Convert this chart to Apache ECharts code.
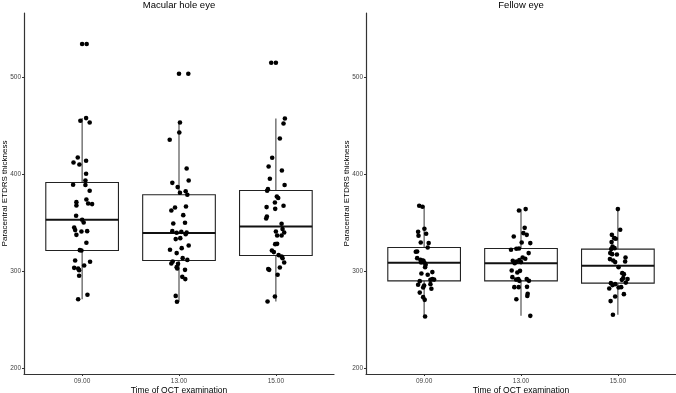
<!DOCTYPE html>
<html>
<head>
<meta charset="utf-8">
<script src="https://cdn.jsdelivr.net/npm/echarts@6/dist/echarts.min.js"></script>
<style>
  html, body { margin: 0; padding: 0; background: #fff; }
  #main { width: 676px; height: 393px; }
</style>
</head>
<body>
<div id="main"></div>
<script>
// paracentral ETDRS thickness by time of OCT exam, two panels

const categories = ['09.00', '13.00', '15.00'];
const panelTitles = ['Macular hole eye', 'Fellow eye'];
const yTicks = [200, 300, 400, 500];

// [min, q1, median, q3, max] per time point
const boxMacular = [
  [271.1, 321.2, 352.9, 391.3, 457.7],
  [268.4, 310.9, 339.2, 378.7, 453.2],
  [268.7, 316.1, 346.0, 383.1, 457.3]
];
const boxFellow = [
  [253.2, 290.0, 308.6, 324.3, 367.3],
  [253.9, 290.0, 308.2, 323.3, 363.9],
  [255.0, 287.6, 305.5, 322.7, 363.9]
];

// jittered points: [jitter offset, thickness]
const macular09 = [
  [0, 534], [0.047, 534], [-0.018, 455], [0.041, 457.7], [0.078, 453.2], [-0.045, 417.1],
  [-0.089, 412], [-0.028, 409.9], [0.041, 413.7], [0.041, 400.3], [0.034, 393.4], [0.034, 388.7],
  [-0.093, 389], [0.078, 382.8], [-0.059, 371.1], [-0.059, 367.6], [0.044, 373.8], [0.062, 369.7],
  [0.103, 369.1], [-0.062, 357], [0, 352.9], [0.016, 350.1], [-0.082, 344.9], [-0.072, 342.3],
  [-0.007, 340.8], [0.052, 341.2], [-0.059, 337.4], [0.044, 329.2], [-0.024, 321.6], [-0.007, 321.2],
  [-0.072, 310.9], [0.082, 309.6], [0.021, 305.8], [-0.082, 303.4], [-0.041, 302.7], [-0.031, 301],
  [-0.031, 295.2], [0.055, 275.6], [-0.041, 271.1]
];
const macular13 = [
  [0, 503.4], [0.096, 503.4], [0.010, 453.2], [0.003, 442.9], [-0.096, 435.4], [0.079, 405.8],
  [0.100, 393.4], [-0.069, 391], [-0.014, 386.6], [0.010, 380.7], [0.069, 382.3], [0.086, 378.7],
  [-0.041, 365.6], [-0.079, 362.5], [0.072, 366.6], [0.044, 357.7], [-0.059, 349.1], [0.062, 349.8],
  [-0.069, 341.2], [-0.024, 339.5], [0.024, 340.5], [0.079, 339.8], [0.069, 338.1], [-0.034, 333],
  [0.013, 334], [0.100, 326.4], [-0.093, 322], [0.028, 323.7], [-0.024, 318.6], [0.038, 313.4],
  [0.086, 311.6], [-0.065, 309.9], [-0.079, 307.8], [-0.010, 307.5], [-0.024, 304.1], [-0.018, 302.7],
  [0.062, 301.3], [0.034, 294.1], [0.065, 291.8], [-0.034, 274.5], [-0.021, 268.4]
];
const macular15 = [
  [-0.048, 514.7], [0, 514.7], [0.093, 457.3], [0.079, 452.2], [0.041, 436.7], [-0.038, 416.8],
  [-0.075, 407.8], [0.062, 403.7], [-0.062, 395.2], [0.090, 388.7], [-0.082, 384.5], [-0.090, 382.8],
  [0.010, 376.9], [0.024, 375.3], [-0.010, 370.7], [-0.096, 366], [-0.007, 364.2], [0.079, 367.3],
  [-0.093, 356.3], [-0.100, 354.2], [0.059, 348.8], [0.069, 343.3], [0, 340.8], [0.086, 339.8],
  [0.013, 336.7], [0.059, 336.7], [-0.007, 327.8], [0.013, 328.1], [-0.041, 321.2], [-0.021, 319.6],
  [0.028, 316.5], [0.059, 315.1], [0.069, 313.4], [0.086, 308.9], [-0.079, 302.1], [-0.069, 301.3],
  [0.041, 303.7], [0.018, 296.2], [-0.010, 273.8], [-0.086, 268.7]
];
const fellow09 = [
  [-0.051, 367.3], [-0.017, 366.3], [0.003, 343.6], [-0.062, 340.5], [0.021, 338.5], [-0.058, 336.4],
  [-0.035, 329.5], [0.047, 328.9], [0.037, 324.3], [-0.072, 320.2], [-0.086, 319.9], [-0.072, 313.4],
  [-0.038, 311.6], [-0.017, 310.9], [-0.007, 310.6], [0.016, 306.5], [0.010, 304.1], [0.085, 299],
  [-0.028, 297.5], [0.037, 296.2], [0.085, 291.8], [0.103, 291.3], [0.065, 291], [-0.045, 289.7],
  [-0.062, 285.9], [0, 285.2], [0.065, 286.6], [0.075, 281.8], [-0.010, 283.1], [-0.045, 277.9],
  [-0.010, 273.2], [0.006, 270.4], [0.010, 253.2], [-0.031, 308.9], [0.003, 308.6]
];
const fellow13 = [
  [-0.021, 362.5], [0.048, 363.9], [0.038, 344.6], [-0.075, 335.7], [0.024, 339.2], [0.059, 337.4],
  [0.007, 329.5], [0.096, 328.9], [-0.103, 322], [-0.048, 323], [-0.021, 323.3], [0.079, 318.6],
  [0.017, 314], [0.044, 312.7], [-0.017, 311.3], [-0.085, 310.6], [-0.044, 309.9], [-0.065, 308.2],
  [0, 309.3], [-0.096, 300.6], [-0.038, 298.6], [-0.010, 300.3], [-0.089, 293.8], [-0.051, 291.3],
  [-0.017, 290], [0.059, 291.8], [0.082, 290], [-0.028, 291.8], [-0.069, 283.5], [-0.024, 283.5],
  [0.062, 283.8], [0.069, 276.6], [0.065, 274.5], [-0.048, 271.1], [0.096, 253.9]
];
const fellow15 = [
  [0, 363.9], [0.024, 342.6], [-0.062, 337.4], [-0.038, 334], [-0.065, 329.9], [-0.021, 333.3],
  [-0.055, 325.4], [-0.034, 323.7], [-0.069, 322.7], [-0.079, 318.6], [-0.010, 317.1], [-0.059, 317.5],
  [-0.082, 312.4], [-0.048, 310.9], [-0.028, 309.3], [0.007, 304.1], [0.079, 314], [0.075, 309.9],
  [0.045, 297.9], [0.062, 296.9], [0.055, 292.8], [0.100, 291.8], [0.082, 288.2], [0.041, 291],
  [-0.072, 287.6], [-0.028, 286.6], [-0.055, 285.6], [0.034, 283.5], [0.007, 283.1], [-0.089, 282.1],
  [0.062, 276.3], [-0.028, 273.8], [-0.075, 269.1], [-0.051, 255]
];

const FONT = 'Liberation Sans';
const BOX_WIDTH = 0.75;

const toPoints = groups => groups.flatMap((g, i) => g.map(p => [i + 1 + p[0], p[1]]));
const toBoxes = boxes => boxes.map((b, i) => [i + 1, ...b]);

function renderBox(params, api) {
  const x = api.value(0);
  const lo = api.coord([x - BOX_WIDTH / 2, api.value(2)]);
  const hi = api.coord([x + BOX_WIDTH / 2, api.value(4)]);
  const mid = api.coord([x, api.value(3)]);
  const top = api.coord([x, api.value(5)]);
  const bot = api.coord([x, api.value(1)]);
  const lineStyle = { stroke: '#444', lineWidth: 1.1 };
  return {
    type: 'group',
    children: [
      { type: 'line', shape: { x1: top[0], y1: top[1], x2: top[0], y2: hi[1] }, style: lineStyle },
      { type: 'line', shape: { x1: bot[0], y1: lo[1], x2: bot[0], y2: bot[1] }, style: lineStyle },
      { type: 'rect', shape: { x: lo[0], y: hi[1], width: hi[0] - lo[0], height: lo[1] - hi[1] },
        style: { fill: '#fff', stroke: '#222', lineWidth: 1.1 } },
      { type: 'line', shape: { x1: lo[0], y1: mid[1], x2: hi[0], y2: mid[1] },
        style: { stroke: '#111', lineWidth: 2 } }
    ]
  };
}

const grids = [
  { left: 24, top: 13, width: 310, height: 361, outerBoundsMode: 'none' },
  { left: 366, top: 13, width: 310, height: 361, outerBoundsMode: 'none' }
];

const xAxes = grids.map((_, i) => ({
  type: 'value',
  gridIndex: i,
  min: 0.4,
  max: 3.6,
  name: 'Time of OCT examination',
  nameLocation: 'middle',
  nameGap: 12,
  nameMoveOverlap: false,
  nameTextStyle: { fontFamily: FONT, fontSize: 8.5, color: '#000' },
  axisLine: { lineStyle: { color: '#333', width: 1.2 } },
  axisTick: { customValues: [1, 2, 3], length: 2, lineStyle: { color: '#333' } },
  axisLabel: {
    customValues: [1, 2, 3],
    margin: 4,
    fontFamily: FONT, fontSize: 6.5, color: '#444',
    formatter: v => categories[Math.round(v) - 1] || ''
  },
  splitLine: { show: false }
}));

const yAxes = grids.map((_, i) => ({
  type: 'value',
  gridIndex: i,
  min: 194,
  max: 566,
  name: 'Paracentral ETDRS thickness',
  nameLocation: 'middle',
  nameGap: 15,
  nameMoveOverlap: false,
  nameTextStyle: { fontFamily: FONT, fontSize: 8, color: '#000' },
  axisLine: { show: true, lineStyle: { color: '#333', width: 1.2 } },
  axisTick: { show: true, customValues: yTicks, length: 2, lineStyle: { color: '#333' } },
  axisLabel: { customValues: yTicks, margin: 3, fontFamily: FONT, fontSize: 6.5, color: '#444' },
  splitLine: { show: false }
}));

const option = {
  animation: false,
  backgroundColor: '#fff',
  title: [
    { text: panelTitles[0], left: 179, top: 0, padding: 0, textAlign: 'center',
      textStyle: { fontFamily: FONT, fontSize: 9.5, fontWeight: 'normal', color: '#000' } },
    { text: panelTitles[1], left: 521, top: 0, padding: 0, textAlign: 'center',
      textStyle: { fontFamily: FONT, fontSize: 9.5, fontWeight: 'normal', color: '#000' } }
  ],
  grid: grids,
  xAxis: xAxes,
  yAxis: yAxes,
  series: [
    { type: 'custom', xAxisIndex: 0, yAxisIndex: 0, renderItem: renderBox, data: toBoxes(boxMacular), z: 1 },
    { type: 'custom', xAxisIndex: 1, yAxisIndex: 1, renderItem: renderBox, data: toBoxes(boxFellow), z: 1 },
    { type: 'scatter', xAxisIndex: 0, yAxisIndex: 0, symbolSize: 4.6, itemStyle: { color: '#000', opacity: 1 }, z: 3,
      data: toPoints([macular09, macular13, macular15]) },
    { type: 'scatter', xAxisIndex: 1, yAxisIndex: 1, symbolSize: 4.6, itemStyle: { color: '#000', opacity: 1 }, z: 3,
      data: toPoints([fellow09, fellow13, fellow15]) }
  ]
};

const chart = echarts.init(document.getElementById('main'));
chart.setOption(option);
</script>
</body>
</html>
